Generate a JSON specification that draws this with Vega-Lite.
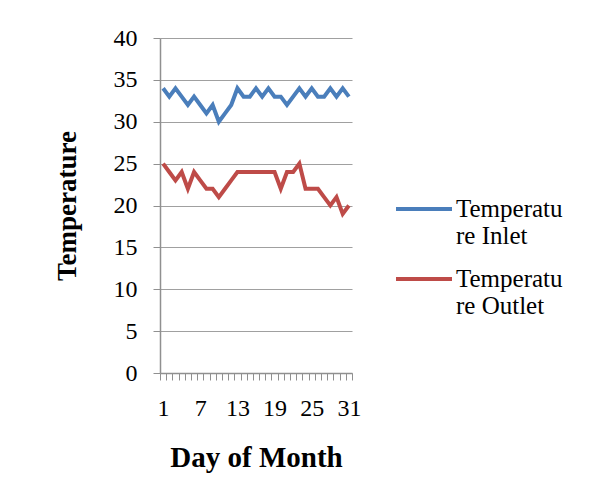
{
  "$schema": "https://vega.github.io/schema/vega-lite/v6.json",
  "width": 192,
  "height": 335,
  "autosize": "none",
  "padding": {"left": 160, "top": 38, "right": 253, "bottom": 118},
  "background": "white",
  "config": {
    "font": "Liberation Serif",
    "view": {"stroke": null}
  },
  "datasets": {
    "temps": [
      {"day": 1, "series": "Temperature Inlet", "temp": 34},
      {"day": 2, "series": "Temperature Inlet", "temp": 33},
      {"day": 3, "series": "Temperature Inlet", "temp": 34},
      {"day": 4, "series": "Temperature Inlet", "temp": 33},
      {"day": 5, "series": "Temperature Inlet", "temp": 32},
      {"day": 6, "series": "Temperature Inlet", "temp": 33},
      {"day": 7, "series": "Temperature Inlet", "temp": 32},
      {"day": 8, "series": "Temperature Inlet", "temp": 31},
      {"day": 9, "series": "Temperature Inlet", "temp": 32},
      {"day": 10, "series": "Temperature Inlet", "temp": 30},
      {"day": 11, "series": "Temperature Inlet", "temp": 31},
      {"day": 12, "series": "Temperature Inlet", "temp": 32},
      {"day": 13, "series": "Temperature Inlet", "temp": 34},
      {"day": 14, "series": "Temperature Inlet", "temp": 33},
      {"day": 15, "series": "Temperature Inlet", "temp": 33},
      {"day": 16, "series": "Temperature Inlet", "temp": 34},
      {"day": 17, "series": "Temperature Inlet", "temp": 33},
      {"day": 18, "series": "Temperature Inlet", "temp": 34},
      {"day": 19, "series": "Temperature Inlet", "temp": 33},
      {"day": 20, "series": "Temperature Inlet", "temp": 33},
      {"day": 21, "series": "Temperature Inlet", "temp": 32},
      {"day": 22, "series": "Temperature Inlet", "temp": 33},
      {"day": 23, "series": "Temperature Inlet", "temp": 34},
      {"day": 24, "series": "Temperature Inlet", "temp": 33},
      {"day": 25, "series": "Temperature Inlet", "temp": 34},
      {"day": 26, "series": "Temperature Inlet", "temp": 33},
      {"day": 27, "series": "Temperature Inlet", "temp": 33},
      {"day": 28, "series": "Temperature Inlet", "temp": 34},
      {"day": 29, "series": "Temperature Inlet", "temp": 33},
      {"day": 30, "series": "Temperature Inlet", "temp": 34},
      {"day": 31, "series": "Temperature Inlet", "temp": 33},
      {"day": 1, "series": "Temperature Outlet", "temp": 25},
      {"day": 2, "series": "Temperature Outlet", "temp": 24},
      {"day": 3, "series": "Temperature Outlet", "temp": 23},
      {"day": 4, "series": "Temperature Outlet", "temp": 24},
      {"day": 5, "series": "Temperature Outlet", "temp": 22},
      {"day": 6, "series": "Temperature Outlet", "temp": 24},
      {"day": 7, "series": "Temperature Outlet", "temp": 23},
      {"day": 8, "series": "Temperature Outlet", "temp": 22},
      {"day": 9, "series": "Temperature Outlet", "temp": 22},
      {"day": 10, "series": "Temperature Outlet", "temp": 21},
      {"day": 11, "series": "Temperature Outlet", "temp": 22},
      {"day": 12, "series": "Temperature Outlet", "temp": 23},
      {"day": 13, "series": "Temperature Outlet", "temp": 24},
      {"day": 14, "series": "Temperature Outlet", "temp": 24},
      {"day": 15, "series": "Temperature Outlet", "temp": 24},
      {"day": 16, "series": "Temperature Outlet", "temp": 24},
      {"day": 17, "series": "Temperature Outlet", "temp": 24},
      {"day": 18, "series": "Temperature Outlet", "temp": 24},
      {"day": 19, "series": "Temperature Outlet", "temp": 24},
      {"day": 20, "series": "Temperature Outlet", "temp": 22},
      {"day": 21, "series": "Temperature Outlet", "temp": 24},
      {"day": 22, "series": "Temperature Outlet", "temp": 24},
      {"day": 23, "series": "Temperature Outlet", "temp": 25},
      {"day": 24, "series": "Temperature Outlet", "temp": 22},
      {"day": 25, "series": "Temperature Outlet", "temp": 22},
      {"day": 26, "series": "Temperature Outlet", "temp": 22},
      {"day": 27, "series": "Temperature Outlet", "temp": 21},
      {"day": 28, "series": "Temperature Outlet", "temp": 20},
      {"day": 29, "series": "Temperature Outlet", "temp": 21},
      {"day": 30, "series": "Temperature Outlet", "temp": 19},
      {"day": 31, "series": "Temperature Outlet", "temp": 20}
    ]
  },
  "data": {"name": "temps"},
  "mark": {"type": "line", "strokeWidth": 4, "strokeJoin": "miter", "strokeCap": "butt"},
  "encoding": {
    "x": {
      "field": "day",
      "type": "ordinal",
      "sort": "ascending",
      "scale": {"type": "band", "paddingInner": 0, "paddingOuter": 0},
      "axis": {
        "title": "Day of Month",
        "titleFont": "Liberation Serif",
        "titleFontSize": 29,
        "titleFontWeight": "bold",
        "titleColor": "black",
        "titlePadding": 23,
        "labelAngle": 0,
        "labelFont": "Liberation Serif",
        "labelFontSize": 24,
        "labelColor": "black",
        "labelPadding": 16,
        "labelExpr": "(datum.value - 1) % 6 == 0 ? datum.label : ''",
        "labelOverlap": false,
        "tickBand": "extent",
        "tickSize": 7,
        "tickColor": "#909090",
        "domainColor": "#909090",
        "domainWidth": 1.5,
        "grid": false
      }
    },
    "y": {
      "field": "temp",
      "type": "quantitative",
      "scale": {"domain": [0, 40], "nice": false},
      "axis": {
        "title": "Temperature",
        "titleFont": "Liberation Serif",
        "titleFontSize": 27,
        "titleFontWeight": "bold",
        "titleColor": "black",
        "titlePadding": 32,
        "values": [0, 5, 10, 15, 20, 25, 30, 35, 40],
        "labelFont": "Liberation Serif",
        "labelFontSize": 24,
        "labelColor": "black",
        "labelPadding": 16,
        "tickSize": 7,
        "tickColor": "#909090",
        "domainColor": "#909090",
        "domainWidth": 1.5,
        "grid": true,
        "gridColor": "#a0a0a0",
        "gridWidth": 1.2
      }
    },
    "color": {
      "field": "series",
      "type": "nominal",
      "scale": {"domain": ["Temperature Inlet", "Temperature Outlet"], "range": ["#4A7EBB", "#BE4B48"]},
      "legend": {
        "title": null,
        "orient": "none",
        "legendX": 234,
        "legendY": 141,
        "symbolType": "stroke",
        "symbolSize": 3136,
        "symbolStrokeWidth": 4,
        "labelFont": "Liberation Serif",
        "labelFontSize": 25,
        "labelLineHeight": 27,
        "labelColor": "black",
        "labelLimit": 0,
        "labelOffset": 2,
        "labelBaseline": "middle",
        "labelExpr": "datum.label == 'Temperature Inlet' ? ['Temperatu', 're Inlet'] : ['Temperatu', 're Outlet']",
        "rowPadding": -3
      }
    }
  }
}
